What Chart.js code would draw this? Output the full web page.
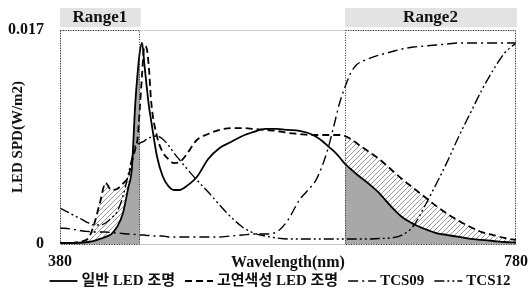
<!DOCTYPE html>
<html><head><meta charset="utf-8">
<script src="https://cdn.jsdelivr.net/npm/chart.js@4.4.1/dist/chart.umd.min.js"></script>
<style>html,body{margin:0;padding:0;background:#fff}</style>
</head><body>
<canvas id="c" width="530" height="292"></canvas>
<script>
// ---- data ----
const wavelengths = [380,390,400,405,410,415,420,425,430,435,440,443,446,448,450,452,454,456,458,460,465,470,475,480,485,490,500,510,520,530,540,550,560,570,580,590,600,605,610,615,620,625,630,635,640,650,660,670,680,690,700,710,720,730,740,750,760,770,780];
const generalLED = [0.00008,0.00008,0.00012,0.00016,0.00024,0.00040,0.00056,0.00079,0.00135,0.00238,0.00453,0.00596,0.01112,0.01350,0.01525,0.01597,0.01430,0.01255,0.01096,0.00977,0.00699,0.00540,0.00461,0.00429,0.00429,0.00453,0.00532,0.00675,0.00763,0.00810,0.00858,0.00890,0.00914,0.00914,0.00906,0.00898,0.00874,0.00850,0.00818,0.00778,0.00739,0.00691,0.00636,0.00596,0.00556,0.00485,0.00405,0.00302,0.00214,0.00159,0.00119,0.00087,0.00071,0.00056,0.00040,0.00032,0.00024,0.00016,0.00012];
const highCRILED = [0.00004,0.00008,0.00024,0.00048,0.00159,0.00326,0.00485,0.00429,0.00437,0.00477,0.00540,0.00651,0.00755,0.00834,0.01072,0.01350,0.01573,0.01557,0.01398,0.01128,0.00858,0.00731,0.00675,0.00643,0.00651,0.00699,0.00826,0.00874,0.00906,0.00921,0.00921,0.00914,0.00906,0.00898,0.00882,0.00874,0.00866,0.00866,0.00866,0.00866,0.00866,0.00866,0.00858,0.00834,0.00802,0.00739,0.00675,0.00596,0.00516,0.00445,0.00373,0.00302,0.00238,0.00183,0.00135,0.00095,0.00071,0.00048,0.00032];
const tcs09 = [0.00127,0.00119,0.00103,0.00099,0.00095,0.00095,0.00095,0.00091,0.00087,0.00083,0.00079,0.00079,0.00075,0.00071,0.00071,0.00071,0.00071,0.00068,0.00068,0.00064,0.00064,0.00064,0.00056,0.00056,0.00056,0.00056,0.00056,0.00056,0.00056,0.00064,0.00071,0.00079,0.00079,0.00095,0.00191,0.00350,0.00453,0.00516,0.00620,0.00755,0.00929,0.01112,0.01247,0.01358,0.01422,0.01470,0.01501,0.01525,0.01549,0.01565,0.01573,0.01581,0.01589,0.01597,0.01597,0.01597,0.01597,0.01597,0.01597];
const tcs12 = [0.00286,0.00238,0.00191,0.00167,0.00151,0.00151,0.00167,0.00207,0.00254,0.00373,0.00556,0.00675,0.00778,0.00794,0.00802,0.00810,0.00818,0.00834,0.00842,0.00850,0.00858,0.00834,0.00786,0.00723,0.00667,0.00612,0.00508,0.00413,0.00310,0.00214,0.00135,0.00087,0.00064,0.00048,0.00040,0.00040,0.00040,0.00040,0.00040,0.00040,0.00040,0.00040,0.00040,0.00040,0.00040,0.00040,0.00044,0.00048,0.00071,0.00143,0.00302,0.00477,0.00659,0.00858,0.01041,0.01223,0.01382,0.01517,0.01597];
const seriesLabels = ['일반 LED 조명', '고연색성 LED 조명', 'TCS09', 'TCS12'];
const xTickValues = [380, 780];
const yTickValues = [0, 0.017];
const rangeLabels = ['Range1', 'Range2'];
const rangeStarts = [380, 630];
const rangeEnds = [450, 780];

const FONT = "'Liberation Serif','Noto Sans CJK KR',serif";
const toPts = vals => wavelengths.map((w, i) => ({x: w, y: vals[i]}));

function makeHatch(ctx) {
  const s = 5;
  const c = document.createElement('canvas');
  c.width = s; c.height = s;
  const g = c.getContext('2d');
  g.strokeStyle = '#9a9a9a';
  g.lineWidth = 1;
  g.beginPath();
  g.moveTo(0, s); g.lineTo(s, 0);
  g.moveTo(-1, 1); g.lineTo(1, -1);
  g.moveTo(s - 1, s + 1); g.lineTo(s + 1, s - 1);
  g.stroke();
  return ctx.createPattern(c, 'repeat');
}

const rangePlugin = {
  id: 'rangePlugin',
  beforeDatasetsDraw(chart) {
    const {ctx, chartArea: a, scales: {x, y}} = chart;
    ctx.save();
    ctx.strokeStyle = '#cfcfcf';
    ctx.lineWidth = 1;
    ctx.beginPath();
    ctx.moveTo(a.left, a.top + 0.5);
    ctx.lineTo(a.right - 0.5, a.top + 0.5);
    ctx.lineTo(a.right - 0.5, a.bottom);
    ctx.stroke();
    ctx.restore();

    const solid = chart.getDatasetMeta(0).dataset;
    const dashed = chart.getDatasetMeta(1).dataset;
    solid.updateControlPoints(a, 'x');
    dashed.updateControlPoints(a, 'x');
    const y0 = y.getPixelForValue(0);
    const pat = makeHatch(ctx);
    rangeStarts.forEach((s, i) => {
      const xl = x.getPixelForValue(s), xr = x.getPixelForValue(rangeEnds[i]);
      ctx.save();
      ctx.beginPath();
      ctx.rect(xl, a.top, xr - xl, y0 - a.top);
      ctx.clip();
      ctx.beginPath();
      dashed.path(ctx);
      for (const seg of solid.segments) solid.pathSegment(ctx, seg, {move: false, reverse: true});
      ctx.closePath();
      ctx.fillStyle = pat;
      ctx.fill();
      ctx.beginPath();
      solid.path(ctx);
      const pts = solid.points;
      ctx.lineTo(pts[pts.length - 1].x, y0);
      ctx.lineTo(pts[0].x, y0);
      ctx.closePath();
      ctx.fillStyle = '#a8a8a8';
      ctx.fill();
      ctx.restore();
    });
  },
  afterDraw(chart) {
    const {ctx, chartArea: a, scales: {x, y}} = chart;
    const y0 = y.getPixelForValue(0);
    ctx.save();
    rangeStarts.forEach((s, i) => {
      const xl = x.getPixelForValue(s), xr = x.getPixelForValue(rangeEnds[i]);
      ctx.setLineDash([1, 1.5]);
      ctx.strokeStyle = '#333';
      ctx.lineWidth = 1;
      ctx.strokeRect(Math.round(xl) + 0.5, Math.round(a.top) + 0.5, Math.round(xr - xl) - 1, Math.round(y0 - a.top));
      ctx.setLineDash([]);
      ctx.fillStyle = '#e3e3e3';
      ctx.fillRect(xl, a.top - 22, xr - xl + 1, 19);
      ctx.fillStyle = '#111';
      ctx.font = `bold 17px ${FONT}`;
      ctx.textAlign = 'center';
      ctx.textBaseline = 'middle';
      ctx.fillText(rangeLabels[i], (xl + xr) / 2, a.top - 12);
    });
    const items = chart.data.datasets.map(d => ({text: d.label, dash: d.borderDash || [], w: d.borderWidth}));
    ctx.font = `bold 15px ${FONT}`;
    const lineLen = 28, gap1 = 4, gap2 = 10, ly = 281;
    const total = items.reduce((s, it) => s + lineLen + gap1 + ctx.measureText(it.text).width, 0) + gap2 * (items.length - 1);
    let cx = 280 - total / 2;
    ctx.strokeStyle = '#000';
    ctx.fillStyle = '#111';
    ctx.textAlign = 'left';
    ctx.textBaseline = 'middle';
    items.forEach(it => {
      ctx.setLineDash(it.dash);
      ctx.lineWidth = it.w;
      ctx.beginPath();
      ctx.moveTo(cx, ly);
      ctx.lineTo(cx + lineLen, ly);
      ctx.stroke();
      ctx.setLineDash([]);
      cx += lineLen + gap1;
      ctx.fillText(it.text, cx, ly);
      cx += ctx.measureText(it.text).width + gap2;
    });
    ctx.restore();
  }
};

const common = {pointRadius: 0, borderColor: '#000', fill: false, cubicInterpolationMode: 'monotone'};
new Chart(document.getElementById('c'), {
  type: 'line',
  data: {
    datasets: [
      {...common, label: seriesLabels[0], data: toPts(generalLED), borderWidth: 1.8, borderDash: []},
      {...common, label: seriesLabels[1], data: toPts(highCRILED), borderWidth: 1.8, borderDash: [7, 4]},
      {...common, label: seriesLabels[2], data: toPts(tcs09), borderWidth: 1.4, borderDash: [10, 4, 2, 4]},
      {...common, label: seriesLabels[3], data: toPts(tcs12), borderWidth: 1.4, borderDash: [10, 3, 2, 3, 2, 3]}
    ]
  },
  options: {
    responsive: false,
    animation: false,
    layout: {padding: {top: 30, right: 14, left: 0, bottom: 0}},
    plugins: {legend: {display: false}, tooltip: {enabled: false}},
    scales: {
      x: {
        type: 'linear', min: 380, max: 780,
        grid: {display: false, drawTicks: false},
        border: {display: true, color: '#c8c8c8'},
        afterBuildTicks: s => { s.ticks = xTickValues.map(v => ({value: v})); },
        ticks: {padding: 8, color: '#111', maxRotation: 0, autoSkip: false, font: {family: FONT, size: 16, weight: 'bold'}},
        title: {display: true, text: 'Wavelength(nm)', color: '#111', font: {family: FONT, size: 16, weight: 'bold'}, padding: {top: 0, bottom: 20}},
        afterFit: s => { s.height = 48; s.paddingLeft = 0; s.paddingRight = 0; }
      },
      y: {
        min: 0, max: 0.017,
        grid: {display: false, drawTicks: false},
        border: {display: true, color: '#c8c8c8'},
        afterBuildTicks: s => { s.ticks = yTickValues.map(v => ({value: v})); },
        ticks: {padding: 16, color: '#111', font: {family: FONT, size: 16, weight: 'bold'}, callback: v => v === 0 ? '0' : v.toFixed(3)},
        title: {display: true, text: 'LED SPD(W/m2)', color: '#111', font: {family: FONT, size: 15, weight: 'bold'}, padding: {top: 9, bottom: 0}},
        afterFit: s => { s.width = 60; s.paddingTop = 0; s.paddingBottom = 0; }
      }
    }
  },
  plugins: [rangePlugin]
});
</script>
</body></html>
